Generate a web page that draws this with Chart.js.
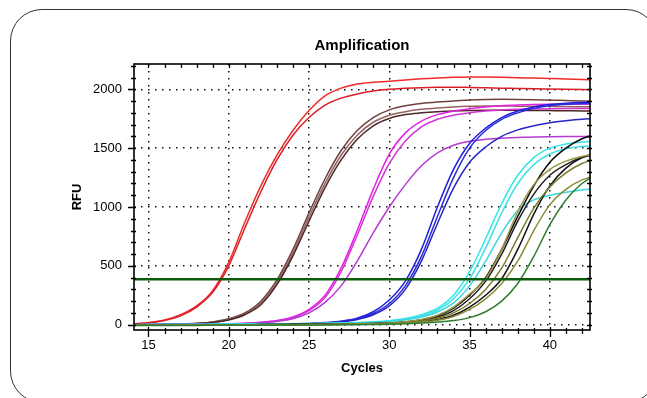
<!DOCTYPE html>
<html>
<head>
<meta charset="utf-8">
<script src="https://cdn.jsdelivr.net/npm/chart.js@4.4.0/dist/chart.umd.min.js"></script>
<style>
  html, body { margin: 0; padding: 0; background: #fff; }
  .wrap { position: relative; width: 647px; height: 398px; overflow: hidden; }
  .frame { position: absolute; left: 10px; top: 9px; width: 648px; height: 394px; border: 1.5px solid #333; border-radius: 32px; box-sizing: border-box; }
  canvas { position: absolute; left: 0; top: 0; }
</style>
</head>
<body>
<div class="wrap">
  <div class="frame"></div>
  <canvas id="chart" width="647" height="398"></canvas>
</div>
<script>
// Cycle numbers the curves are read at
const cycles = [14, 15, 16, 17, 18, 19, 20, 21, 22, 23, 24, 25, 26, 27, 28, 29, 30, 31, 32, 33, 34, 35, 36, 37, 38, 39, 40, 41, 42, 43];

// RFU values, one array per well
const red1 = [8, 18, 40, 85, 160, 290, 530, 870, 1180, 1440, 1650, 1820, 1945, 2010, 2045, 2060, 2068, 2080, 2090, 2097, 2102, 2105, 2104, 2102, 2099, 2095, 2092, 2088, 2084, 2080];
const red2 = [6, 15, 35, 75, 150, 275, 500, 820, 1130, 1400, 1610, 1760, 1865, 1925, 1960, 1985, 2000, 2008, 2014, 2017, 2018, 2016, 2013, 2010, 2007, 2004, 2002, 2000, 1998, 1996];
const brown1 = [1, 2, 3, 6, 12, 24, 50, 100, 200, 380, 640, 950, 1240, 1480, 1650, 1760, 1825, 1860, 1880, 1892, 1900, 1910, 1914, 1915, 1914, 1912, 1908, 1904, 1900, 1897];
const brown2 = [1, 1, 3, 5, 10, 21, 45, 92, 185, 360, 610, 915, 1200, 1440, 1610, 1720, 1780, 1810, 1830, 1842, 1850, 1855, 1858, 1858, 1857, 1856, 1855, 1854, 1852, 1850];
const brown3 = [0, 1, 2, 4, 9, 19, 40, 85, 170, 340, 585, 880, 1165, 1400, 1575, 1690, 1752, 1785, 1800, 1810, 1816, 1820, 1822, 1822, 1821, 1820, 1819, 1818, 1816, 1815];
const magenta1 = [0, 1, 2, 3, 4, 6, 8, 12, 20, 35, 65, 130, 250, 480, 800, 1150, 1450, 1630, 1730, 1785, 1815, 1835, 1850, 1860, 1866, 1870, 1873, 1875, 1876, 1876];
const magenta2 = [0, 1, 2, 3, 4, 5, 7, 11, 18, 32, 58, 120, 230, 450, 760, 1090, 1370, 1560, 1680, 1745, 1780, 1800, 1815, 1825, 1830, 1833, 1835, 1836, 1836, 1836];
const magenta3 = [0, 1, 1, 2, 3, 5, 7, 10, 16, 28, 50, 100, 190, 330, 540, 780, 1000, 1190, 1350, 1460, 1525, 1558, 1575, 1585, 1590, 1595, 1597, 1598, 1598, 1598];
const blue1 = [0, 1, 1, 1, 2, 2, 3, 4, 5, 6, 8, 10, 18, 30, 55, 110, 210, 370, 640, 1000, 1320, 1540, 1670, 1760, 1815, 1850, 1870, 1882, 1888, 1890];
const blue2 = [0, 0, 1, 1, 1, 2, 2, 3, 4, 5, 7, 9, 16, 27, 50, 95, 180, 330, 580, 920, 1250, 1500, 1650, 1745, 1800, 1838, 1860, 1872, 1878, 1880];
const blue3 = [0, 0, 1, 1, 1, 2, 2, 3, 4, 5, 6, 8, 14, 24, 45, 85, 160, 300, 540, 860, 1160, 1380, 1510, 1600, 1655, 1690, 1715, 1732, 1745, 1752];
const cyan1 = [0, 1, 1, 2, 2, 3, 4, 5, 6, 7, 8, 10, 12, 15, 18, 24, 34, 52, 85, 140, 250, 450, 730, 1030, 1270, 1420, 1500, 1535, 1552, 1558];
const cyan2 = [0, 1, 1, 2, 2, 3, 4, 5, 6, 7, 8, 9, 11, 14, 17, 22, 30, 46, 75, 125, 220, 390, 650, 950, 1200, 1360, 1450, 1495, 1515, 1522];
const cyan3 = [0, 1, 1, 2, 2, 3, 3, 4, 5, 6, 7, 8, 10, 13, 16, 20, 28, 42, 66, 108, 185, 330, 540, 780, 970, 1060, 1100, 1125, 1145, 1155];
const black1 = [-2, -2, -2, -2, -1, -1, 0, 0, 1, 2, 3, 4, 5, 6, 8, 11, 15, 25, 42, 75, 140, 250, 400, 640, 920, 1180, 1380, 1500, 1580, 1620];
const black2 = [-2, -2, -2, -2, -1, -1, 0, 0, 1, 1, 2, 3, 4, 5, 7, 9, 12, 20, 35, 65, 120, 220, 370, 600, 880, 1110, 1270, 1360, 1420, 1450];
const black3 = [-3, -3, -3, -2, -2, -2, -1, -1, 0, 0, 1, 2, 3, 4, 5, 7, 10, 15, 25, 45, 80, 150, 250, 390, 640, 940, 1180, 1330, 1420, 1460];
const olive1 = [-4, -4, -4, -4, -3, -3, -3, -2, -2, -1, 0, 1, 2, 4, 6, 9, 14, 25, 45, 80, 150, 260, 390, 640, 960, 1190, 1320, 1390, 1430, 1450];
const olive2 = [-4, -4, -4, -4, -3, -3, -3, -2, -2, -1, 0, 1, 2, 3, 5, 7, 11, 18, 32, 55, 100, 180, 300, 480, 740, 990, 1170, 1290, 1370, 1410];
const olive3 = [-5, -5, -5, -5, -4, -4, -4, -3, -3, -2, -1, 0, 1, 2, 4, 6, 8, 14, 22, 38, 70, 130, 220, 350, 540, 800, 1020, 1150, 1230, 1270];
const green1 = [-6, -6, -6, -6, -6, -5, -5, -5, -4, -4, -3, -3, -2, -1, 0, 2, 4, 8, 14, 22, 35, 60, 110, 200, 350, 580, 850, 1060, 1200, 1280];

const threshold = 386;

// Axis ticks
const xTicks = [15, 20, 25, 30, 35, 40];
const yTicks = [0, 500, 1000, 1500, 2000];
const xRange = [14.1, 42.5];
const yRange = [-45, 2215];

const chartTitle = 'Amplification';

const curves = [
  [green1, '#2e7d2e'],
  [olive3, '#8c8c3a'],
  [olive2, '#7a7a2c'],
  [olive1, '#9a9440'],
  [black3, '#111111'],
  [black2, '#222222'],
  [black1, '#0a0a0a'],
  [cyan3, '#3ad6e0'],
  [cyan2, '#40e0e6'],
  [cyan1, '#30e8e8'],
  [blue3, '#2626c8'],
  [blue2, '#2a2ad6'],
  [blue1, '#1e1ee0'],
  [magenta3, '#b43cd2'],
  [magenta2, '#d433d4'],
  [magenta1, '#e61ee6'],
  [brown3, '#4a2626'],
  [brown2, '#94625f'],
  [brown1, '#6e4040'],
  [red2, '#d81e28'],
  [red1, '#ee2a2a']
];

const datasets = [{
  data: [{ x: xRange[0], y: threshold }, { x: xRange[1], y: threshold }],
  borderColor: '#0b5a0b',
  borderWidth: 2.6,
  pointRadius: 0
}];
curves.forEach(([vals, color]) => {
  datasets.push({
    data: cycles.map((c, i) => ({ x: c, y: vals[i] })),
    borderColor: color,
    borderWidth: 1.5,
    pointRadius: 0,
    cubicInterpolationMode: 'monotone'
  });
});

const fontFamily = '"Liberation Sans", Arial, sans-serif';

// Plot frame with minor tick marks on all four sides, plus the title centred on the plot
const frameTicks = {
  id: 'frameTicks',
  afterDatasetsDraw(chart) {
    const { ctx, chartArea: a, scales: { x, y } } = chart;
    ctx.save();
    ctx.strokeStyle = '#000';
    ctx.lineWidth = 1.6;
    ctx.strokeRect(a.left, a.top, a.right - a.left, a.bottom - a.top);
    ctx.lineWidth = 1.3;
    ctx.beginPath();
    for (let c = Math.ceil(x.min); c <= x.max; c++) {
      const px = Math.round(x.getPixelForValue(c)) + 0.5;
      const major = c % 5 === 0;
      ctx.moveTo(px, a.bottom - (major ? 3 : 2));
      ctx.lineTo(px, a.bottom + (major ? 7 : 4));
      ctx.moveTo(px, a.top);
      ctx.lineTo(px, a.top + 4);
    }
    for (let v = 0; v <= y.max; v += 100) {
      const py = Math.round(y.getPixelForValue(v)) + 0.5;
      const major = v % 500 === 0;
      ctx.moveTo(a.left - (major ? 6 : 3), py);
      ctx.lineTo(a.left + 2, py);
      ctx.moveTo(a.right - 3, py);
      ctx.lineTo(a.right + 2, py);
    }
    ctx.stroke();

    ctx.fillStyle = '#000';
    ctx.font = 'bold 15px ' + fontFamily;
    ctx.textAlign = 'center';
    ctx.textBaseline = 'middle';
    ctx.fillText(chartTitle, (a.left + a.right) / 2, 46);
    ctx.restore();
  }
};

new Chart(document.getElementById('chart'), {
  type: 'line',
  data: { datasets },
  plugins: [frameTicks],
  options: {
    responsive: false,
    animation: false,
    layout: { padding: { left: 0, right: 57, top: 64, bottom: 0 } },
    plugins: {
      legend: { display: false },
      tooltip: { enabled: false },
      title: { display: false }
    },
    scales: {
      x: {
        type: 'linear',
        min: xRange[0],
        max: xRange[1],
        afterFit: s => { s.height = 68; },
        afterBuildTicks: s => { s.ticks = xTicks.map(v => ({ value: v })); },
        grid: { color: '#111', lineWidth: 1.5, drawTicks: false },
        border: { display: false, dash: [1.5, 5.5] },
        ticks: { color: '#000', padding: 8, maxRotation: 0, font: { family: fontFamily, size: 13 }, callback: v => String(v) },
        title: {
          display: true,
          text: 'Cycles',
          color: '#000',
          font: { family: fontFamily, size: 13, weight: 'bold' },
          padding: { top: 0, bottom: 22 }
        }
      },
      y: {
        min: yRange[0],
        max: yRange[1],
        afterFit: s => { s.width = 134; },
        afterBuildTicks: s => { s.ticks = yTicks.map(v => ({ value: v })); },
        grid: { color: '#111', lineWidth: 1.5, drawTicks: false },
        border: { display: false, dash: [1.5, 5.5] },
        ticks: { color: '#000', padding: 12, font: { family: fontFamily, size: 13 }, callback: v => String(v) },
        title: {
          display: true,
          text: 'RFU',
          color: '#000',
          font: { family: fontFamily, size: 13, weight: 'bold' },
          padding: { top: 70, bottom: 0 }
        }
      }
    }
  }
});
</script>
</body>
</html>
